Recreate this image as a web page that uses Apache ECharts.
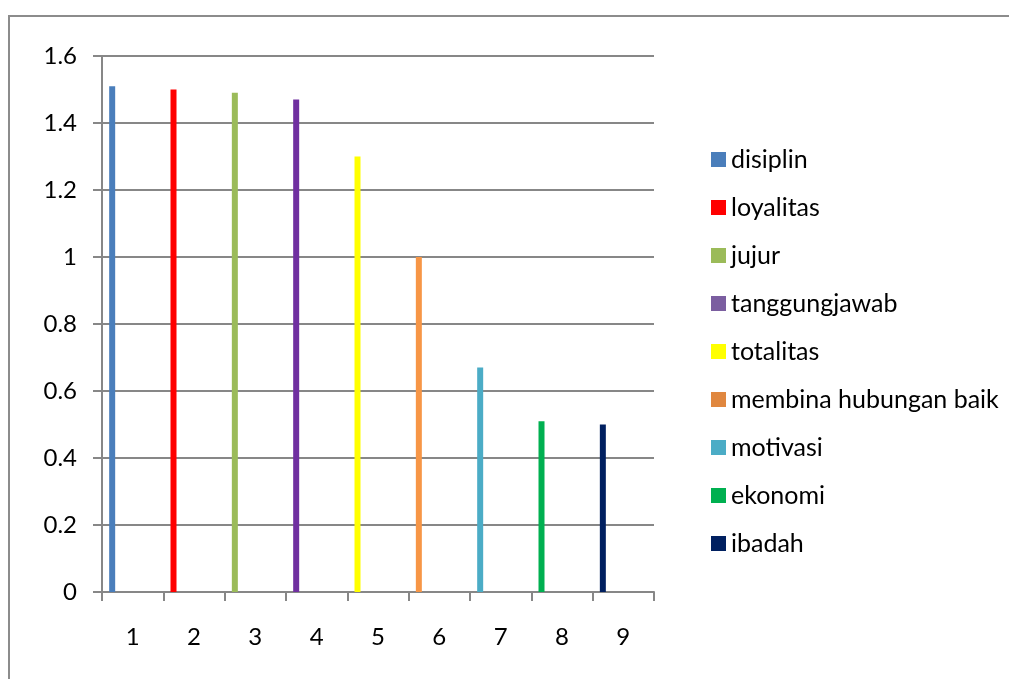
<!DOCTYPE html>
<html>
<head>
<meta charset="utf-8">
<script src="https://cdn.jsdelivr.net/npm/echarts@6/dist/echarts.min.js"></script>
<style>
  html, body { margin: 0; padding: 0; background: #fff; }
  #chart { width: 1009px; height: 679px; }
</style>
</head>
<body>
<div id="chart"></div>
<script>
// Categories on the x axis
var categories = ['1', '2', '3', '4', '5', '6', '7', '8', '9'];
// One series per aspect, each placed on its own category
var seriesNames = ['disiplin', 'loyalitas', 'jujur', 'tanggungjawab', 'totalitas',
  'membina hubungan baik', 'motivasi', 'ekonomi', 'ibadah'];
var seriesValues = [1.51, 1.50, 1.49, 1.47, 1.30, 1.00, 0.67, 0.51, 0.50];
var barColors = ['#4A7EBB', '#FF0000', '#9BBB59', '#7030A0', '#FFFF00',
  '#F79646', '#4BACC6', '#00B050', '#002060'];
var legendColors = ['#4A7EBB', '#FF0000', '#9BBB59', '#7B5EA0', '#FFFF00',
  '#E0873F', '#4BACC6', '#00B050', '#002060'];

var font = 'Lato, "Open Sans", sans-serif';
var gray = '#878787';

var chart = echarts.init(document.getElementById('chart'));

var series = seriesNames.map(function (name, i) {
  var data = categories.map(function (c, j) { return j === i ? seriesValues[i] : null; });
  return {
    name: name,
    type: 'bar',
    stack: 'all',
    barWidth: 6,
    barGap: '583%',
    data: data,
    itemStyle: { color: barColors[i] }
  };
});
// empty companion series keeps the columns toward the left of each slot
series.push({
  name: '_spacer',
  type: 'bar',
  barWidth: 6,
  barGap: '583%',
  data: categories.map(function () { return null; }),
  silent: true
});

chart.setOption({
  animation: false,
  textStyle: { fontFamily: font },
  graphic: [{
    type: 'rect',
    shape: { x: 9, y: 16, width: 1200, height: 1000 },
    style: { fill: 'none', stroke: '#8c8c8c', lineWidth: 2 },
    silent: true
  }],
  grid: { left: 102, right: 355, top: 56, bottom: 87, containLabel: false },
  xAxis: {
    type: 'category',
    data: categories,
    axisLine: { lineStyle: { color: gray, width: 2 } },
    axisTick: { show: true, length: 9, lineStyle: { color: gray, width: 2 }, alignWithLabel: false },
    axisLabel: { color: '#000', fontSize: 24, margin: 33, fontFamily: font }
  },
  yAxis: {
    type: 'value',
    min: 0, max: 1.6, interval: 0.2,
    axisLine: { show: true, lineStyle: { color: gray, width: 2 } },
    axisTick: { show: true, length: 9, lineStyle: { color: gray, width: 2 } },
    splitLine: { lineStyle: { color: gray, width: 2 } },
    axisLabel: { color: '#000', fontSize: 24, margin: 25, fontFamily: font }
  },
  legend: {
    orient: 'vertical',
    left: 706,
    top: 142,
    itemWidth: 15,
    itemHeight: 15,
    itemGap: 23,
    icon: 'rect',
    textStyle: { color: '#000', fontSize: 25, lineHeight: 24, fontFamily: font },
    data: seriesNames.map(function (n, i) {
      return { name: n, itemStyle: { color: legendColors[i] } };
    })
  },
  series: series
});
</script>
</body>
</html>
